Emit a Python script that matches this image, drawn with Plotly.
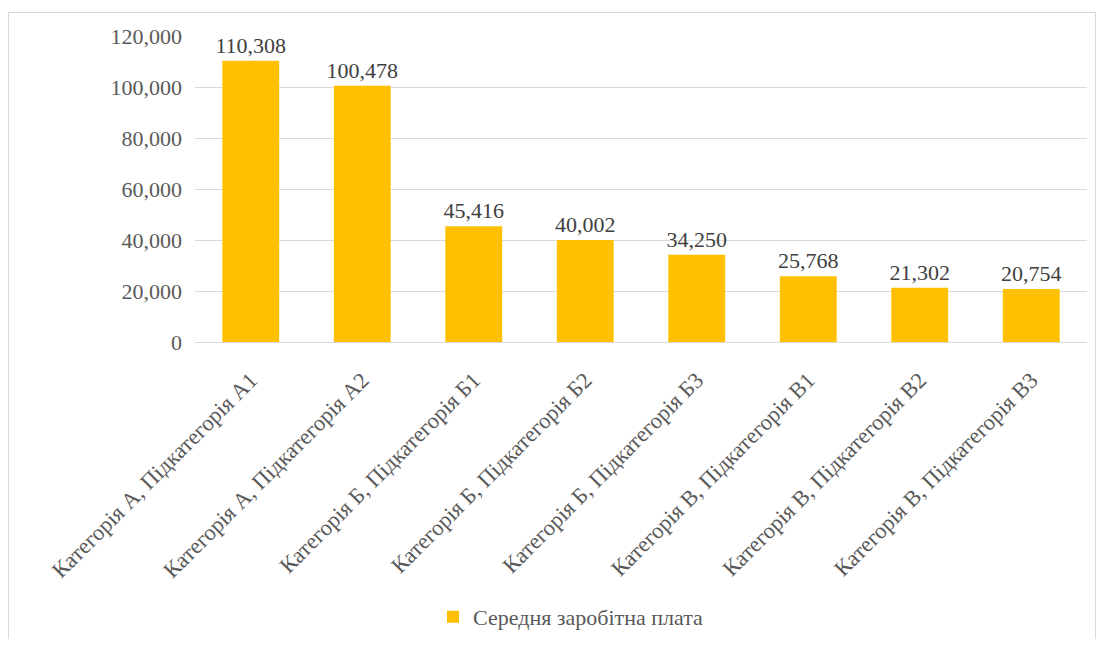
import plotly.graph_objects as go

categories = [
    "Категорія А, Підкатегорія А1",
    "Категорія А, Підкатегорія А2",
    "Категорія Б, Підкатегорія Б1",
    "Категорія Б, Підкатегорія Б2",
    "Категорія Б, Підкатегорія Б3",
    "Категорія В, Підкатегорія В1",
    "Категорія В, Підкатегорія В2",
    "Категорія В, Підкатегорія В3",
]
values = [110308, 100478, 45416, 40002, 34250, 25768, 21302, 20754]
series_name = "Середня заробітна плата"
y_ticks = [0, 20000, 40000, 60000, 80000, 100000, 120000]

# page body has an 8px margin; figure coordinates are offset by it
OFF = 8
W, H = 1088, 631
ml, mt = 195 - OFF, 36 - OFF
mr = W - (1087 - OFF)
mb = H - (342 - OFF)
pw = W - ml - mr
ph = H - mt - mb

def px_x(p):
    return (p - OFF - ml) / pw

def px_y(p):
    return (H - mb - (p - OFF)) / ph

font_color = "#595959"
font_family = "'Liberation Serif', 'Times New Roman', serif"
FS = 22

fig = go.Figure()
fig.add_trace(go.Bar(
    x=categories, y=values, name=series_name,
    marker=dict(color="#FFC000", line=dict(width=0)),
    width=0.51,
    text=[f"{v:,}" for v in values],
    textposition="outside",
    constraintext="none",
    cliponaxis=False,
    textfont=dict(size=FS, color="#404040", family=font_family),
))

fig.update_layout(
    width=W, height=H,
    margin=dict(l=ml, r=mr, t=mt, b=mb, autoexpand=False),
    paper_bgcolor="white", plot_bgcolor="white",
    font=dict(family=font_family, color=font_color, size=FS),
    showlegend=True,
    legend=dict(orientation="h", xref="container", yref="container",
                x=(571 - OFF) / W, xanchor="center",
                y=(H - (617 - OFF)) / H, yanchor="middle",
                font=dict(size=FS, color=font_color), itemwidth=30),
    xaxis=dict(tickangle=-45, showgrid=False, showline=True, linecolor="#D9D9D9",
               linewidth=1, ticks="", ticklabelstandoff=15, automargin=False,
               tickfont=dict(size=22.5, color=font_color)),
    yaxis=dict(range=[0, 120000], tickvals=y_ticks, tickformat=",", showgrid=True,
               gridcolor="#D9D9D9", gridwidth=1, zeroline=False, showline=False,
               ticks="", ticklabelstandoff=12, automargin=False,
               tickfont=dict(size=FS, color=font_color)),
    shapes=[dict(type="rect", xref="paper", yref="paper",
                 x0=px_x(8.5), x1=px_x(1095.5), y0=px_y(660), y1=px_y(12.5),
                 line=dict(color="#D9D9D9", width=1), fillcolor="rgba(0,0,0,0)",
                 layer="below")],
)

fig.write_html("out.html")
